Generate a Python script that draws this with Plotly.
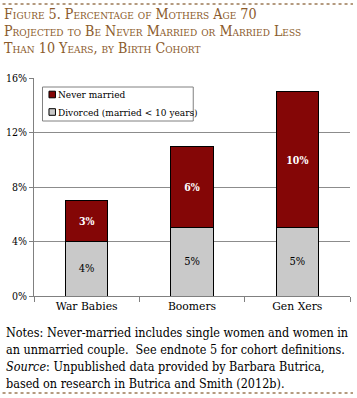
import plotly.graph_objects as go

categories = ["War Babies", "Boomers", "Gen Xers"]
divorced = [4, 5, 5]
never_married = [3, 6, 10]
divorced_labels = ["4%", "5%", "5%"]
never_labels = ["3%", "6%", "10%"]
series_names = ["Never married", "Divorced (married < 10 years)"]
y_ticks = [0, 4, 8, 12, 16]
y_tick_labels = ["0%", "4%", "8%", "12%", "16%"]

title_lines = [
    "Figure 5. Percentage of Mothers Age 70",
    "Projected to Be Never Married or Married Less",
    "Than 10 Years, by Birth Cohort",
]
notes_lines = [
    "Notes: Never-married includes single women and women in",
    "an unmarried couple.  See endnote 5 for cohort definitions.",
    "<i>Source</i>: Unpublished data provided by Barbara Butrica,",
    "based on research in Butrica and Smith (2012b).",
]

W, H = 357, 398
SERIF = "DejaVu Serif"
COND = "DejaVu Serif Condensed, DejaVu Serif"
BROWN = "#8B5A2B"
RED = "#840606"
GRAY = "#C9C9C9"

fig = go.Figure()
fig.add_trace(go.Bar(
    x=categories, y=divorced, name=series_names[1],
    marker=dict(color=GRAY, line=dict(color="black", width=1)),
    text=divorced_labels, textposition="inside", insidetextanchor="middle",
    textfont=dict(family=COND, size=11, color="black"),
    textangle=0, showlegend=False,
))
fig.add_trace(go.Bar(
    x=categories, y=never_married, name=series_names[0],
    marker=dict(color=RED, line=dict(color="black", width=1)),
    text=never_labels, textposition="inside", insidetextanchor="middle",
    textfont=dict(family=COND, size=10.5, color="white", weight="bold"),
    textangle=0, showlegend=False,
))

pl, pr, pt, pb = 33.5, 350, 78, 296


def px_x(x):
    return (x - pl) / (pr - pl)


def px_y(y):
    return (pb - y) / (pb - pt)


fig.update_layout(
    width=W, height=H,
    margin=dict(l=pl, r=W - pr, t=pt, b=H - pb, autoexpand=False),
    paper_bgcolor="white", plot_bgcolor="white",
    barmode="stack", bargap=0.6,
    font=dict(family=SERIF, size=10, color="black"),
    showlegend=False,
    xaxis=dict(
        showline=True, linecolor="#808080", linewidth=1,
        ticks="outside", tickson="boundaries", ticklen=5, tickcolor="#808080",
        tickfont=dict(family=SERIF, size=10.8, color="black"),
        showgrid=False, fixedrange=True,
    ),
    yaxis=dict(
        range=[0, 16], tickvals=y_ticks, ticktext=y_tick_labels,
        showline=True, linecolor="#808080", linewidth=1,
        ticks="outside", ticklen=4, tickcolor="#808080",
        showgrid=True, gridcolor="#8c8c8c", gridwidth=1,
        tickfont=dict(family=COND, size=10.5, color="black"),
        zeroline=False, fixedrange=True,
    ),
)

# legend (drawn)
fig.add_shape(type="rect", xref="paper", yref="paper",
              x0=px_x(42), x1=px_x(193), y0=px_y(87), y1=px_y(121),
              line=dict(color="#808080", width=1), fillcolor="white", layer="above")
for name, col, yc in zip(series_names, [RED, GRAY], [94.5, 112]):
    fig.add_shape(type="rect", xref="paper", yref="paper",
                  x0=px_x(48.5), x1=px_x(55), y0=px_y(yc - 3.3), y1=px_y(yc + 3.3),
                  line=dict(color="black", width=1), fillcolor=col, layer="above")
    fig.add_annotation(text=name, xref="paper", yref="paper",
                       x=px_x(56), y=px_y(yc), xanchor="left", yanchor="middle",
                       showarrow=False,
                       font=dict(family=COND, size=10, color="black"))

title_y = [24, 41, 58]
for line, yb in zip(title_lines, title_y):
    fig.add_annotation(
        text=line, xref="paper", yref="paper",
        x=px_x(1), y=px_y(yb),
        xanchor="left", yanchor="bottom", showarrow=False,
        font=dict(family=COND, size=14.2, color=BROWN, variant="small-caps"),
    )

notes_y = [332, 349, 366, 383]
for line, yc in zip(notes_lines, notes_y):
    fig.add_annotation(
        text=line, xref="paper", yref="paper",
        x=px_x(3), y=px_y(yc),
        xanchor="left", yanchor="middle", showarrow=False,
        font=dict(family=COND, size=12.5, color="black"),
    )

for yr in [4, 393]:
    fig.add_shape(
        type="line", xref="paper", yref="paper",
        x0=px_x(2), x1=px_x(353), y0=px_y(yr), y1=px_y(yr),
        line=dict(color="#9C7A55", width=1.5, dash="dot"),
    )

fig.write_html("out.html",
               config={"displayModeBar": False},
               post_script="document.body.style.margin='0';document.body.style.overflow='hidden';")
